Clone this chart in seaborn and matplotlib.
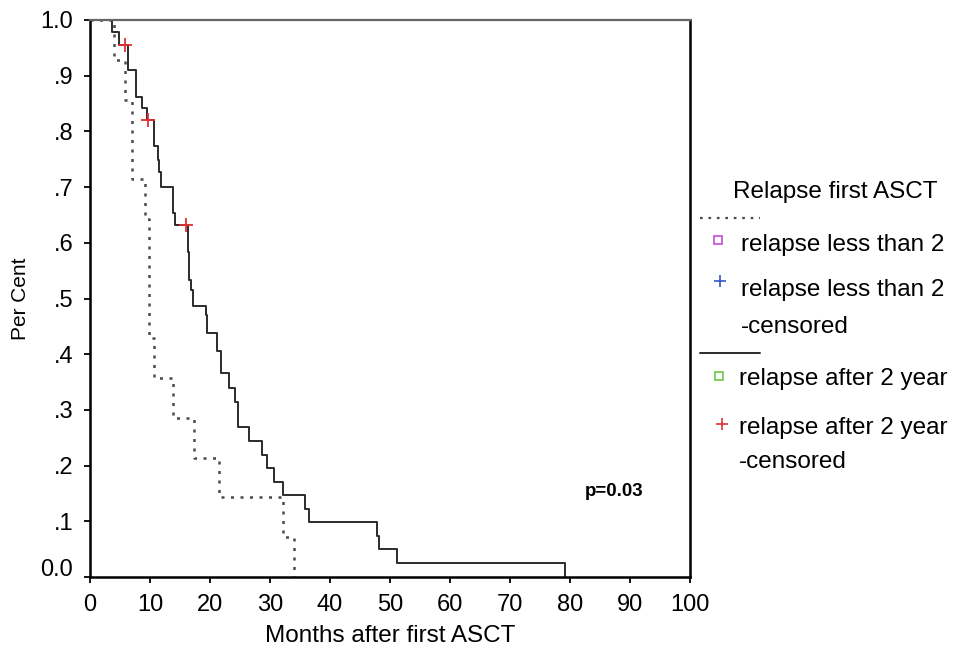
import matplotlib
matplotlib.use("Agg")
import matplotlib.pyplot as plt
import matplotlib.lines as mlines
import matplotlib.transforms as mtrans
import pandas as pd
import seaborn as sns

# ---------------- data ----------------
early_months = [0, 4.0, 5.83, 7.08, 9.17, 9.75, 10.72, 13.88, 17.33, 21.55, 32.22, 34.0]
early_surv = [1.0, 0.929, 0.857, 0.714, 0.643, 0.429, 0.357, 0.286, 0.214, 0.143, 0.071, 0.0]

late_months = [0, 3.62, 4.83, 6.38, 7.67, 8.62, 9.5, 10.72, 11.28, 11.55, 11.83, 13.78,
               14.17, 16.38, 16.5, 16.83, 17.22, 19.33, 19.55, 21.17, 21.78, 23.22, 24.17,
               24.72, 26.55, 28.62, 29.45, 30.67, 32.22, 35.83, 36.55, 47.78, 48.22, 51.22,
               79.17]
late_surv = [1.0, 0.978, 0.955, 0.910, 0.862, 0.842, 0.820, 0.773, 0.749, 0.728, 0.700, 0.654,
             0.632, 0.584, 0.533, 0.515, 0.487, 0.470, 0.438, 0.405, 0.366, 0.340, 0.315,
             0.269, 0.245, 0.219, 0.195, 0.171, 0.147, 0.122, 0.098, 0.073, 0.050, 0.025,
             0.0]

late_cens_months = [5.83, 9.72, 16.08]
late_cens_surv = [0.955, 0.820, 0.632]

x_ticks = [0, 10, 20, 30, 40, 50, 60, 70, 80, 90, 100]
y_ticks = [0.0, 0.1, 0.2, 0.3, 0.4, 0.5, 0.6, 0.7, 0.8, 0.9, 1.0]
y_tick_labels = ["0.0", ".1", ".2", ".3", ".4", ".5", ".6", ".7", ".8", ".9", "1.0"]

x_label = "Months after first ASCT"
y_label = "Per Cent"
legend_title = "Relapse first ASCT"
legend_labels = ["relapse less than 2", "relapse less than 2\n-censored",
                 "relapse after 2 year", "relapse after 2 year\n-censored"]
p_text = "p=0.03"

# ---------------- style ----------------
sns.set_style("ticks")
plt.rcParams["font.family"] = ["Liberation Sans", "DejaVu Sans"]
for key in ["text.color", "axes.labelcolor", "xtick.color", "ytick.color"]:
    plt.rcParams[key] = "black"

W, H = 955, 647
fig = plt.figure(figsize=(W / 100, H / 100), dpi=100)
ax = fig.add_axes([90 / W, 1 - 577 / H, 600 / W, 557 / H])

early_df = pd.DataFrame({"month": early_months, "surv": early_surv})
late_df = pd.DataFrame({"month": late_months, "surv": late_surv})
cens_df = pd.DataFrame({"month": late_cens_months, "surv": late_cens_surv})

sns.lineplot(data=early_df, x="month", y="surv", ax=ax, estimator=None, sort=False,
             drawstyle="steps-post", color="#4a4a4a", linewidth=1.8,
             linestyle=(0, (1.2, 2.6)), legend=False)
sns.lineplot(data=late_df, x="month", y="surv", ax=ax, estimator=None, sort=False,
             drawstyle="steps-post", color="#2b2b2b", linewidth=1.4, legend=False)
sns.scatterplot(data=cens_df, x="month", y="surv", ax=ax, marker="+", s=90,
                color="#e03030", linewidth=1.3, legend=False, zorder=5)

ax.set_xlim(0, 100)
ax.set_ylim(0, 1)
ax.set_xticks(x_ticks)
ax.set_yticks(y_ticks)
ax.set_yticklabels(y_tick_labels)
ax.tick_params(axis="both", direction="out", length=4, width=1.3, color="black",
               labelcolor="black", labelsize=17, pad=8)

for side in ["left", "bottom", "right"]:
    ax.spines[side].set_visible(True)
    ax.spines[side].set_color("black")
    ax.spines[side].set_linewidth(1.8)
ax.spines["top"].set_visible(True)
ax.spines["top"].set_color("#666666")
ax.spines["top"].set_linewidth(1.6)

# 0.0 label sits slightly above its tick in the reference
lbl0 = ax.get_yticklabels()[0]
lbl0.set_transform(lbl0.get_transform() + mtrans.ScaledTranslation(0, 0.10, fig.dpi_scale_trans))

ax.set_xlabel(x_label, fontsize=17.5, color="black")
ax.xaxis.label.set_va("center")
ax.xaxis.set_label_coords(0.5, (577 - 636) / 557)
ax.set_ylabel(y_label, fontsize=15, color="black")
ax.yaxis.label.set_va("center")
ax.yaxis.set_label_coords((20 - 90) / 600, 0.5)

ax.text(87.3, 0.153, p_text, fontsize=13.5, fontweight="bold", ha="center", va="center",
        color="black")

# ---------------- legend (outside on the right) ----------------
def fx(px):
    return px / W

def fy(py):
    return 1 - py / H

fs = 17.5
fig.text(fx(733), fy(192), legend_title, fontsize=fs, ha="left", va="center")
fig.add_artist(mlines.Line2D([fx(700), fx(760)], [fy(218), fy(218)], color="#4a4a4a",
                             linewidth=1.6, linestyle=(0, (1.2, 2.6))))
fig.add_artist(mlines.Line2D([fx(718)], [fy(240)], marker="s", markersize=5.5,
                             markerfacecolor="none", markeredgecolor="#cc55dd",
                             markeredgewidth=1.3, linestyle="none"))
fig.text(fx(741), fy(245), legend_labels[0], fontsize=fs, ha="left", va="center")
fig.add_artist(mlines.Line2D([fx(720)], [fy(281)], marker="+", markersize=8,
                             markeredgecolor="#3355cc", markeredgewidth=1.2, linestyle="none"))
blue1, blue2 = legend_labels[1].split("\n")
fig.text(fx(741), fy(290), blue1, fontsize=fs, ha="left", va="center")
fig.text(fx(741), fy(327), blue2, fontsize=fs, ha="left", va="center")
fig.add_artist(mlines.Line2D([fx(700), fx(760)], [fy(353), fy(353)], color="#2b2b2b",
                             linewidth=1.4))
fig.add_artist(mlines.Line2D([fx(719)], [fy(376)], marker="s", markersize=5.5,
                             markerfacecolor="none", markeredgecolor="#77cc55",
                             markeredgewidth=1.3, linestyle="none"))
fig.text(fx(739), fy(379), legend_labels[2], fontsize=fs, ha="left", va="center")
fig.add_artist(mlines.Line2D([fx(722)], [fy(424)], marker="+", markersize=8,
                             markeredgecolor="#e03030", markeredgewidth=1.2, linestyle="none"))
red1, red2 = legend_labels[3].split("\n")
fig.text(fx(739), fy(428), red1, fontsize=fs, ha="left", va="center")
fig.text(fx(739), fy(462), red2, fontsize=fs, ha="left", va="center")

fig.savefig("out.png", dpi=100)
